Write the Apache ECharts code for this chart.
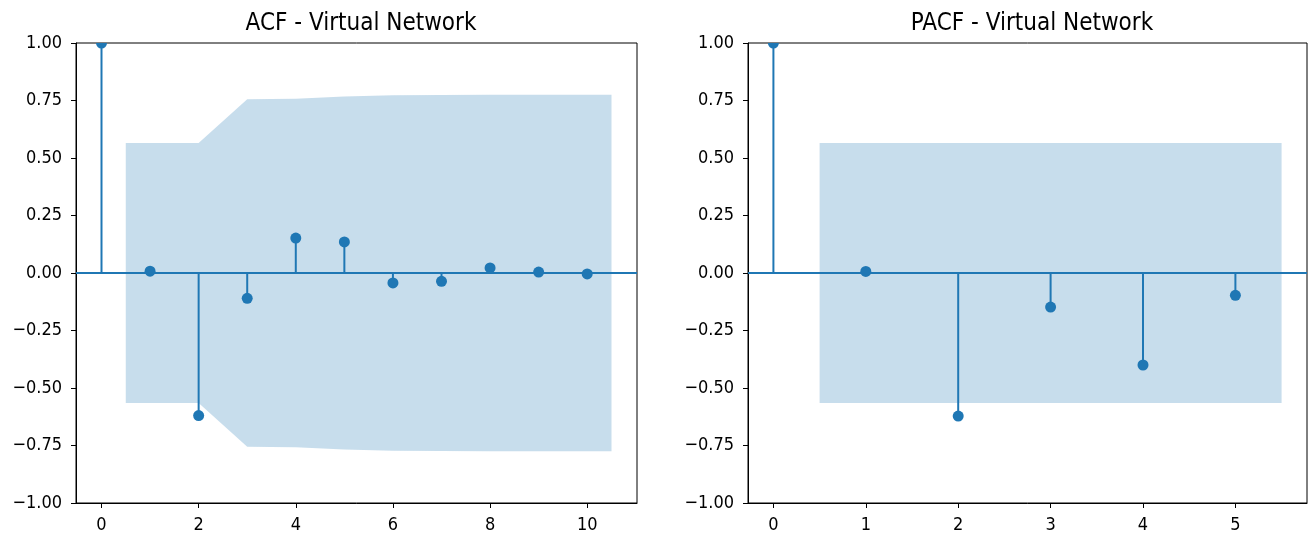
<!DOCTYPE html>
<html>
<head>
<meta charset="utf-8">
<script src="https://cdn.jsdelivr.net/npm/echarts@6/dist/echarts.min.js"></script>
<style>
html,body{margin:0;padding:0;background:#fff;}
#chart{width:1312px;height:537px;}
</style>
</head>
<body>
<div id="chart"></div>
<script>
// ACF data
const acfLags = [0, 1, 2, 3, 4, 5, 6, 7, 8, 9, 10];
const acfValues = [1.0, 0.008, -0.62, -0.11, 0.152, 0.135, -0.043, -0.036, 0.022, 0.004, -0.004];
const acfBandX = [0.5, 2, 3, 4, 5, 6, 7, 8, 9, 10.5];
const acfBandHalf = [0.565, 0.565, 0.755, 0.758, 0.767, 0.773, 0.774, 0.775, 0.775, 0.775];
const acfXTicks = [0, 2, 4, 6, 8, 10];

// PACF data
const pacfLags = [0, 1, 2, 3, 4, 5];
const pacfValues = [1.0, 0.007, -0.622, -0.148, -0.40, -0.097];
const pacfBandX = [0.5, 1, 2, 3, 4, 5.5];
const pacfBandHalf = [0.565, 0.565, 0.565, 0.565, 0.565, 0.565];
const pacfXTicks = [0, 1, 2, 3, 4, 5];

const yTicks = [-1.0, -0.75, -0.5, -0.25, 0, 0.25, 0.5, 0.75, 1.0];
const titles = ['ACF - Virtual Network', 'PACF - Virtual Network'];

const BLUE = '#1f77b4';
const FONT = 'DejaVu Sans';
const TICKFONT = '"DejaVu Sans Condensed", "DejaVu Sans"';

const chart = echarts.init(document.getElementById('chart'), null, {renderer: 'canvas'});

function fmtY(v) {
  const s = Math.abs(v).toFixed(2);
  return v < 0 ? '\u2212' + s : s;
}

function bandSeries(idx, bx, bh) {
  return {
    type: 'custom',
    xAxisIndex: idx, yAxisIndex: idx,
    data: bx.map((x, i) => [x, bh[i]]),
    z: 1,
    clip: true,
    silent: true,
    renderItem: function (params, api) {
      if (params.dataIndex !== 0) return null;
      const pts = [];
      for (let i = 0; i < bx.length; i++) pts.push(api.coord([bx[i], bh[i]]));
      for (let i = bx.length - 1; i >= 0; i--) pts.push(api.coord([bx[i], -bh[i]]));
      return {type: 'polygon', shape: {points: pts}, style: {fill: 'rgba(31,119,180,0.25)'}};
    }
  };
}

function stemSeries(idx, lags, vals) {
  return {
    type: 'custom',
    xAxisIndex: idx, yAxisIndex: idx,
    data: lags.map((x, i) => [x, vals[i]]),
    z: 3,
    clip: true,
    silent: true,
    renderItem: function (params, api) {
      const p0 = api.coord([api.value(0), 0]);
      const p1 = api.coord([api.value(0), api.value(1)]);
      return {
        type: 'group',
        children: [
          {type: 'line', shape: {x1: p0[0], y1: p0[1], x2: p1[0], y2: p1[1]},
            style: {stroke: BLUE, lineWidth: 2}},
          {type: 'circle', shape: {cx: p1[0], cy: p1[1], r: 5.5}, style: {fill: BLUE}}
        ]
      };
    },
    markLine: {
      silent: true,
      symbol: ['none', 'none'],
      label: {show: false},
      lineStyle: {color: BLUE, width: 2, type: 'solid'},
      data: [{yAxis: 0}],
      z: 2
    }
  };
}

function xAxis(idx, min, max, ticks) {
  return {
    type: 'value', gridIndex: idx, min: min, max: max,
    splitLine: {show: false},
    axisLine: {show: true, onZero: false, lineStyle: {color: '#000', width: 1}},
    axisTick: {show: true, length: 5, lineStyle: {color: '#000', width: 1}, customValues: ticks},
    axisLabel: {color: '#000', fontFamily: TICKFONT, fontSize: 18, margin: 13, customValues: ticks,
      formatter: v => String(v)}
  };
}

function yAxis(idx) {
  return {
    type: 'value', gridIndex: idx, min: -1, max: 1, interval: 0.25,
    splitLine: {show: false},
    axisLine: {show: true, onZero: false, lineStyle: {color: '#000', width: 1}},
    axisTick: {show: true, length: 5, lineStyle: {color: '#000', width: 1}, customValues: yTicks},
    axisLabel: {color: '#000', fontFamily: TICKFONT, fontSize: 18, margin: 14, customValues: yTicks,
      formatter: fmtY}
  };
}

const option = {
  backgroundColor: '#fff',
  animation: false,
  title: [
    {text: titles[0], left: 356, top: 7, textAlign: 'center',
      textStyle: {fontFamily: TICKFONT, fontSize: 24, fontWeight: 'normal', color: '#000'}},
    {text: titles[1], left: 1027, top: 7, textAlign: 'center',
      textStyle: {fontFamily: TICKFONT, fontSize: 24, fontWeight: 'normal', color: '#000'}}
  ],
  grid: [
    {left: 76, right: 675, top: 43, bottom: 34, show: true, borderColor: '#000', borderWidth: 1, containLabel: false},
    {left: 748, right: 5, top: 43, bottom: 34, show: true, borderColor: '#000', borderWidth: 1, containLabel: false}
  ],
  xAxis: [
    xAxis(0, -0.525, 11.025, acfXTicks),
    xAxis(1, -0.275, 5.775, pacfXTicks)
  ],
  yAxis: [yAxis(0), yAxis(1)],
  series: [
    bandSeries(0, acfBandX, acfBandHalf),
    stemSeries(0, acfLags, acfValues),
    bandSeries(1, pacfBandX, pacfBandHalf),
    stemSeries(1, pacfLags, pacfValues)
  ]
};
chart.setOption(option);
</script>
</body>
</html>
